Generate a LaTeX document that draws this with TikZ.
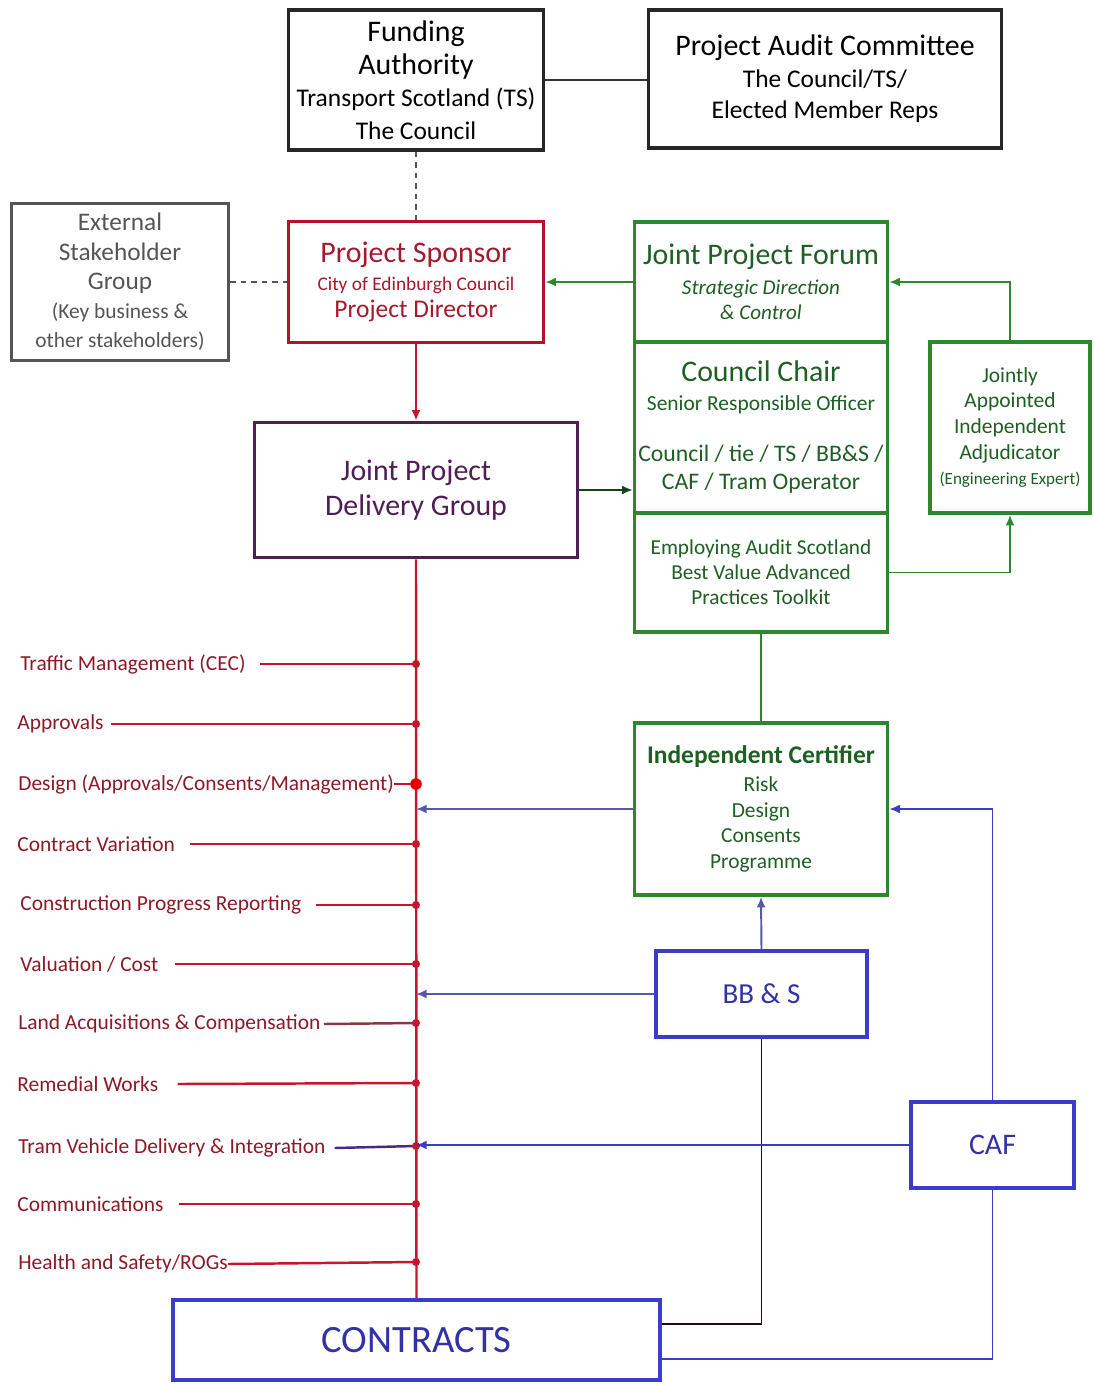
\documentclass[tikz,border=0pt]{standalone}
\usepackage{fontspec}
\setmainfont{Carlito}
\usetikzlibrary{positioning,arrows.meta}

\definecolor{sponsred}{RGB}{165,25,45}
\definecolor{linered}{RGB}{200,20,45}
\definecolor{itemred}{RGB}{140,25,40}
\definecolor{forumgreen}{RGB}{45,135,45}
\definecolor{textgreen}{RGB}{30,95,35}
\definecolor{contrblue}{RGB}{60,60,200}
\definecolor{textblue}{RGB}{50,50,165}
\definecolor{jpdgpurple}{RGB}{80,30,85}
\definecolor{extgrey}{RGB}{85,85,85}

\newcommand{\fsize}[2]{\fontsize{#1}{#2}\selectfont}

\begin{document}
\begin{tikzpicture}[
                x=0.02cm, y=-0.02cm,
                box/.style={draw, line width=2pt, align=center, inner sep=0pt, fill=white},
                blackbox/.style={box, draw=black!85, text=black},
                greybox/.style={box, draw=extgrey, text=extgrey},
                redbox/.style={box, draw=linered!90!black, text=sponsred},
                purplebox/.style={box, draw=jpdgpurple, text=jpdgpurple},
                greenbox/.style={box, draw=forumgreen, text=textgreen, minimum width=5.06cm},
                bluebox/.style={box, draw=contrblue, text=textblue},
                item/.style={anchor=west, text=itemred, font=\fsize{12.2}{14}, inner sep=0pt},
                feed/.style={draw=linered, line width=1.4pt},
                arrow/.style={-{Latex[length=6pt,width=5pt]}, line width=1.1pt}
            ]
                \useasboundingbox (0,0) rectangle (1093,1384);

                \node[blackbox, minimum width=5.1cm, minimum height=2.8cm, font=\fsize{17}{18.5}] (fund) at (416,80)
                    {Funding\\Authority\\\fsize{14.5}{17}Transport Scotland (TS)\\\fsize{14.5}{17}The Council};
                \node[blackbox, minimum width=7.06cm, minimum height=2.76cm, font=\fsize{17}{18}] (audit) at (825,79)
                    {Project Audit Committee\\\fsize{14.5}{17}The Council/TS/\\\fsize{14.5}{17}Elected Member Reps};
                \node[greybox, minimum width=4.34cm, minimum height=3.14cm, font=\fsize{14.4}{16.6}] (ext) at (120,282)
                    {External\\Stakeholder\\Group\\\fsize{12.2}{14}(Key business \&\\\fsize{12.2}{14}other stakeholders)};
                \node[redbox, minimum width=5.1cm, minimum height=2.42cm, font=\fsize{17}{15.5}] (spons) at (416,282)
                    {Project Sponsor\\\fsize{11}{13}City of Edinburgh Council\\\fsize{14.5}{17}Project Director};
                \node[purplebox, minimum width=6.46cm, minimum height=2.7cm, font=\fsize{17}{20}] (jpdg) at (416,490)
                    {Joint Project\\Delivery Group};

                \node[greenbox, minimum height=2.4cm, font=\fsize{17}{14.3}] (forum) at (761,282)
                    {Joint Project Forum\\[3pt]\fsize{12}{14}\itshape Strategic Direction\\\fsize{12}{14}\itshape\& Control};
                \node[greenbox, minimum height=3.42cm, font=\fsize{17}{16}] (chair) at (761,427.5)
                    {Council Chair\\\fsize{12.2}{14}Senior Responsible Officer\\[13.5pt]\fsize{13.5}{16}Council / tie / TS / BB\&S /\\\fsize{13.5}{16}CAF / Tram Operator};
                \node[greenbox, minimum height=2.38cm, font=\fsize{12.1}{14.2}] (toolkit) at (761,572.5)
                    {Employing Audit Scotland\\Best Value Advanced\\Practices Toolkit};
                \node[greenbox, minimum width=3.2cm, minimum height=3.42cm, font=\fsize{12.2}{14.6}] (adj) at (1010,427.5)
                    {Jointly\\Appointed\\Independent\\Adjudicator\\\fsize{9.7}{12}(Engineering Expert)};
                \node[greenbox, minimum height=3.44cm, font=\fsize{12.2}{14.5}] (cert) at (761,809)
                    {\fsize{14.5}{16}\bfseries Independent Certifier\\[1.5pt]Risk\\Design\\Consents\\Programme};

                \node[bluebox, minimum width=4.22cm, minimum height=1.72cm, font=\fsize{16.5}{20}] (bbs) at (761.5,994) {BB \& S};
                \node[bluebox, minimum width=3.26cm, minimum height=1.72cm, font=\fsize{17}{20}] (caf) at (992.5,1145) {CAF};
                \node[bluebox, line width=2.5pt, minimum width=9.74cm, minimum height=1.6cm, font=\fsize{22}{26}] (contr) at (416.5,1340) {CONTRACTS};

                \coordinate (tm) at (416,664);
                \coordinate (appr) at (416,724);
                \coordinate (des) at (416,784);
                \coordinate (cv) at (416,844);
                \coordinate (cpr) at (416,905);
                \coordinate (val) at (416,964);
                \coordinate (land) at (416,1023);
                \coordinate (rem) at (416,1083);
                \coordinate (tram) at (416,1146);
                \coordinate (comm) at (416,1204);
                \coordinate (hs) at (416,1262);

                \node[item] (tm-l) at (20,664) {Traffic Management (CEC)};
                \node[item] (appr-l) at (17,724) {Approvals};
                \node[item] (des-l) at (18,784) {Design (Approvals/Consents/Management)};
                \node[item] (cv-l) at (17,844) {Contract Variation};
                \node[item] (cpr-l) at (20,905) {Construction Progress Reporting};
                \node[item] (val-l) at (20,964) {Valuation / Cost};
                \node[item] (land-l) at (18,1024) {Land Acquisitions \& Compensation};
                \node[item] (rem-l) at (17,1084) {Remedial Works};
                \node[item] (tram-l) at (18,1148) {Tram Vehicle Delivery \& Integration};
                \node[item] (comm-l) at (17,1204) {Communications};
                \node[item] (hs-l) at (18,1264) {Health and Safety/ROGs};

                \draw[line width=1.2pt, black!80] (fund.east) -- (fund.east -| audit.west);
                \draw[dashed, extgrey, line width=0.8pt] (fund.south) -- (spons.north);
                \draw[dashed, extgrey, line width=0.8pt] (ext.east) -- (spons.west);
                \draw[arrow, linered] (spons.south) -- (jpdg.north);
                \draw[arrow, forumgreen] (forum.west) -- (spons.east);
                \draw[arrow, textgreen!70!black] (jpdg.east) -- (jpdg.east -| chair.west);
                \draw[arrow, forumgreen] (adj.north) |- (forum.east);
                \draw[arrow, forumgreen] (toolkit.east) -| (adj.south);
                \draw[forumgreen, line width=1.2pt] (toolkit.south) -- (cert.north);

                \draw[feed] (jpdg.south) -- (contr.north);
                \draw[feed] (tm-l.east) ++(14,0) -- (tm);
                \draw[feed] (appr-l.east) ++(7,0) -- (appr);
                \draw[feed] (des-l.east) -- (des);
                \draw[feed] (cv-l.east) ++(15,0) -- (cv);
                \draw[feed] (cpr-l.east) ++(15,0) -- (cpr);
                \draw[feed] (val-l.east) ++(16,0) -- (val);
                \draw[feed, draw=itemred!70!gray] (land-l.east) ++(3,0) -- (land);
                \draw[feed] (rem-l.east) ++(19,0) -- (rem);
                \draw[feed, draw=jpdgpurple!60!contrblue] (tram-l.east) ++(9,0) -- (tram);
                \draw[feed] (comm-l.east) ++(15,0) -- (comm);
                \draw[feed] (hs-l.east) -- (hs);
                \foreach \p in {tm,appr,cv,cpr,val,land,rem,tram,comm,hs}
                    \fill[linered] (\p) circle (2.3pt);
                \fill[red!90!black] (des) circle (3.3pt);

                \draw[arrow, contrblue!60!gray] (cert.west) -- (cert.west -| des);
                \draw[arrow, contrblue!60!gray] (bbs.north) -- (cert.south);
                \draw[arrow, contrblue!60!gray] (bbs.west) -- (bbs.west -| des);
                \draw[line width=1pt, jpdgpurple!40!black] (bbs.south) |- ([yshift=9pt]contr.east);
                \draw[arrow, contrblue] (caf.north) |- (cert.east);
                \draw[arrow, contrblue] (caf.west) -- (caf.west -| tram);
                \draw[line width=1pt, contrblue] (caf.south) |- ([yshift=-11pt]contr.east);
            \end{tikzpicture}
\end{document}
